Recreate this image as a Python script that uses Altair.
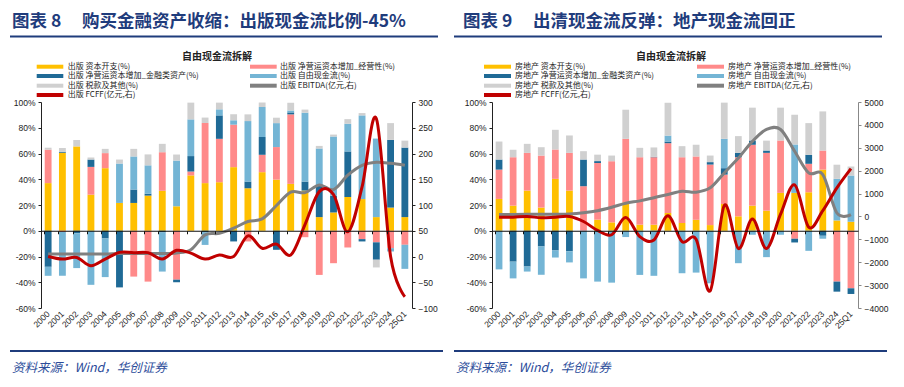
import altair as alt
import pandas as pd

categories = ["2000", "2001", "2002", "2003", "2004", "2005", "2006", "2007", "2008", "2009",
              "2010", "2011", "2012", "2013", "2014", "2015", "2016", "2017", "2018", "2019",
              "2020", "2021", "2022", "2023", "2024", "25Q1"]

# ---- Panel 1: 出版 (percent of cash flow) ----
pub_capex = [37, 60.5, 65.5, 28, 48.6, 21.6, 21.6, 27.3, 31, 19, 43, 37, 37.7, 49.4, 33, 45.5,
             39.7, 36.4, 31.2, 10.6, 14.2, 26.2, 24.6, 10.6, 18, 10.6]
pub_opwc = [26, -1, 0, 21.6, 11.7, 0, -35.6, -39.5, 30, -38, 3, 46.7, 33.7, 33, -8.3, 13.5,
            25.3, 54, -5, -34.3, -25.2, -13, -6.5, -9, -13.5, -10.9]
pub_finwc = [-28, 0.8, -2, 5.7, -6, -44, 10.4, 1.5, -1.3, -2, 12, -1.3, 18.2, -8.3, 5.2, 13.8,
             -14.8, 1.5, 7, 24.4, 13, 35.4, -1.8, -13.5, 52.6, 54]
pub_fcf = [-7, -34, -27, -42, -30, 30.6, 25.7, 22, -30.4, 35.5, 28.5, -9.7, 4.7, 3.4, 47, 23.3,
           18.6, 1.5, 53.5, 28.9, 46, 21.5, 65, 61, -2.6, -18.7]
pub_tax = [1.5, 3, 5, 1.6, 3.3, 3.1, 5.9, 8.5, 6.5, 4.7, 13, 4.2, 5.2, 4.7, 5.2, 3.5,
           4.2, 6, 2.4, 2, 1.5, 3.6, 1.8, -6, 13, 5.4]
pub_ebitda = [5, 5, 5, 5, 5, 6, 6, 6, 6, 7, 13, 42, 45, 55, 68, 73, 99, 125, 124, 139, 130,
              158, 177, 183, 181, 177]
pub_fcff = [0, -5, -2, -18, -5, 8, 7.5, 7.5, -5, 12, 6.5, -5, 3, 0, 40, 16, 24, 3, 62, 126,
            120, 48, 135, 268, 0, -78]

# ---- Panel 2: 房地产 ----
re_capex = [24.7, 19.5, 31.2, 18, 40.3, 31.2, 0, 8.6, 6.5, 22, 4.7, 4.7, 13.8, 6, 8.5, 4.4,
            20.8, 11.2, 19.5, 15.6, 29.4, 29.4, 29.9, 47.5, 8, 7]
re_opwc = [22.8, 37.6, 29.3, 40.4, 22.8, 29.3, 34.6, 44, 47.5, 49.4, 52.4, 52.4, 54.2, 51.1,
           49.2, 47, 22.8, 45.9, 47.3, 44.9, 40.7, -6.2, 22.1, 14.8, -39.5, -44.7]
re_finwc = [7.8, -24, -27.8, -12.2, -15.3, -16, 20.7, 1.5, 0, 0, 0, 0.3, 1.3, 0, 0, 1.9,
            5, 3.4, 3.3, 1.8, 0, -2.9, 7, -3.9, -7.8, -4.4]
re_fcf = [-30, -13, -3.9, -22, -5.5, -8.6, -37, -39.5, -40.3, -4.9, -34.3, -35, 4.6, -33,
          -32.5, -40.8, 22.8, -25.2, -3.1, -20.5, -3.1, 37.6, -15.6, -2.3, 32.3, 35.9]
re_tax = [14, 5.8, 7, 6.5, 15.3, 13.5, 6.5, 5, 4.4, 22.6, 7.3, 7.3, 25.5, 8.6, 9.1, 5.1,
          28.1, 13, 25.5, 7.7, 25.5, 23.1, 24.6, 30.4, 11, 7]
re_ebitda = [90, 90, 92, 95, 100, 110, 160, 250, 400, 580, 680, 820, 960, 1100, 1060, 1250,
             1900, 2550, 3280, 3800, 3800, 2850, 1900, 1830, 150, 80]
re_fcff = [-30, -30, 0, -60, -30, 0, -220, -610, -800, -50, -880, -1030, 30, -1100, -1000,
           -3250, 480, -1400, -115, -1400, 100, 1380, -470, 250, 1250, 2090]

left_ticks = [-60, -40, -20, 0, 20, 40, 60, 80, 100]
pub_right_ticks = [-100, -50, 0, 50, 100, 150, 200, 250, 300]
re_right_ticks = [-4000, -3000, -2000, -1000, 0, 1000, 2000, 3000, 4000, 5000]

series_keys = ["capex", "opwc", "finwc", "fcf", "tax"]
series_colors = ["#FFC000", "#FF8A8A", "#1F6A96", "#74B5D5", "#D0D0D0"]
EBITDA_COLOR = "#808080"
FCFF_COLOR = "#C00000"
NAVY = "#1F3C7C"
CJK = "Noto Sans CJK SC"
NUM = "Liberation Sans"

PLOT_H = 206


def deco_text(x, y, s, size, color="#222", weight="normal", align="left",
              baseline="middle", style="normal"):
    return alt.Chart(alt.Data(values=[{}])).mark_text(
        text=s, fontSize=size, font=CJK, color=color, fontWeight=weight,
        align=align, baseline=baseline, fontStyle=style
    ).encode(x=alt.value(x), y=alt.value(y))


def deco_rule(x1, x2, y, color, width):
    return alt.Chart(alt.Data(values=[{}])).mark_rule(
        color=color, strokeWidth=width, strokeCap="butt"
    ).encode(x=alt.value(x1), x2=alt.value(x2), y=alt.value(y))


def panel(prefix, arrays, ebitda, fcff, right_domain, right_ticks, right_axis_color,
          width, frame, title_num, title_main, title_size, sub_x, leg_cols):
    rows = []
    for i, cat in enumerate(categories):
        for k, arr in enumerate(arrays):
            rows.append({"cat": cat, "series": series_keys[k], "ord": k, "val": arr[i]})
    bar_df = pd.DataFrame(rows)
    line_df = pd.DataFrame({"cat": categories, "ebitda": ebitda, "fcff": fcff})

    xscale = alt.Scale(paddingInner=0.52, paddingOuter=0.26)

    label_axis = alt.Axis(orient="bottom", title=None, labelAngle=-45, labelAlign="right",
                          labelBaseline="middle", ticks=False, domain=False, labelPadding=4,
                          labelFont=NUM, labelFontSize=8.5, labelColor="#222",
                          labelOverlap=False, grid=False)
    zero_axis = alt.Axis(orient="bottom", offset=PLOT_H * 100 / 160 - PLOT_H, labels=False,
                         ticks=True, tickSize=3, bandPosition=0, domain=True,
                         domainColor="#111", domainWidth=1.2, tickColor="#111",
                         title=None, grid=False, zindex=1)

    bars = alt.Chart(bar_df).mark_bar().encode(
        x=alt.X("cat:N", sort=categories, scale=xscale, axis=label_axis),
        y=alt.Y("val:Q", stack="zero", scale=alt.Scale(domain=[-60, 100], nice=False),
                axis=alt.Axis(orient="left", values=left_ticks, labelExpr="datum.value + '%'",
                              title=None, grid=False, domainColor="#222", tickColor="#222",
                              tickSize=3, labelFont=NUM, labelFontSize=8.5, labelColor="#222",
                              labelPadding=3)),
        color=alt.Color("series:N", scale=alt.Scale(domain=series_keys, range=series_colors),
                        legend=None),
        order=alt.Order("ord:Q"),
    )

    yright = alt.Scale(domain=right_domain, nice=False, zero=False)
    raxis = alt.Axis(orient="right", values=right_ticks, title=None, grid=False, format="d",
                     domainColor=right_axis_color, tickColor=right_axis_color, tickSize=3,
                     labelFont=NUM, labelFontSize=8.5, labelColor="#222", labelPadding=3)
    line_x = alt.X("cat:N", sort=categories, scale=xscale, axis=zero_axis)
    l_ebitda = alt.Chart(line_df).mark_line(color=EBITDA_COLOR, strokeWidth=3,
                                            interpolate="cardinal").encode(
        x=line_x, y=alt.Y("ebitda:Q", scale=yright, axis=raxis))
    l_fcff = alt.Chart(line_df).mark_line(color=FCFF_COLOR, strokeWidth=3,
                                          interpolate="cardinal").encode(
        x=line_x, y=alt.Y("fcff:Q", scale=yright, axis=raxis))
    lines = alt.layer(l_ebitda, l_fcff)

    fl, fr = frame
    frame_rect = alt.Chart(alt.Data(values=[{}])).mark_rect(opacity=0).encode(
        x=alt.value(fl), x2=alt.value(fr), y=alt.value(-94), y2=alt.value(277))

    decos = [
        deco_text(-29, -75.5, title_num, 17.5, NAVY, "bold", baseline="alphabetic"),
        deco_text(41, -75.5, title_main, title_size, NAVY, "bold", baseline="alphabetic"),
        deco_rule(fl + 2, fr - 14, -65.5, NAVY, 2.2),
        deco_text(sub_x, -45, "自由现金流拆解", 10, "#222", "bold", align="center"),
        deco_rule(fl + 2, fr - 9, 249, NAVY, 2.2),
        deco_text(fl + 4, 266, "资料来源：Wind，华创证券", 12.5, "#2B4C9A", style="italic"),
    ]

    leg_items = [
        (0, 0, series_colors[0], prefix + " 资本开支(%)"),
        (1, 0, series_colors[1], prefix + " 净营运资本增加_经营性(%)"),
        (0, 1, series_colors[2], prefix + " 净营运资本增加_金融类资产(%)"),
        (1, 1, series_colors[3], prefix + " 自由现金流(%)"),
        (0, 2, series_colors[4], prefix + " 税款及其他(%)"),
        (1, 2, EBITDA_COLOR, prefix + " EBITDA(亿元,右)"),
        (0, 3, FCFF_COLOR, prefix + " FCFF(亿元,右)"),
    ]
    row_y = [-35.3, -26, -16.3, -7]
    for col, row, color, label in leg_items:
        sx1, sx2, tx = leg_cols[col]
        decos.append(deco_rule(sx1, sx2, row_y[row], color, 4))
        decos.append(deco_text(tx, row_y[row], label, 8, "#222"))

    return alt.layer(frame_rect, bars, lines, *decos).properties(
        width=width, height=PLOT_H
    ).resolve_scale(y="independent", color="independent").resolve_axis(
        x="independent", y="independent")


p1 = panel("出版",
           [pub_capex, pub_opwc, pub_finwc, pub_fcf, pub_tax], pub_ebitda, pub_fcff,
           [-100, 300], pub_right_ticks, "#222", 371, (-33, 411),
           "图表 8", "购买金融资产收缩：出版现金流比例-45%", 17.5, 176,
           [(-4.3, 22.3, 26.7), (209, 235.7, 239)])
p2 = panel("房地产",
           [re_capex, re_opwc, re_finwc, re_fcf, re_tax], re_ebitda, re_fcff,
           [-4000, 5000], re_right_ticks, "#888", 366, (-40, 404),
           "图表 9", "出清现金流反弹：地产现金流回正", 17.5, 179,
           [(-8, 19, 23), (205, 232, 236)])

chart = alt.hconcat(p1, p2, spacing=0).properties(padding=0).configure_view(stroke=None)

chart.save("out.html", embed_options={"renderer": "svg", "actions": False})
